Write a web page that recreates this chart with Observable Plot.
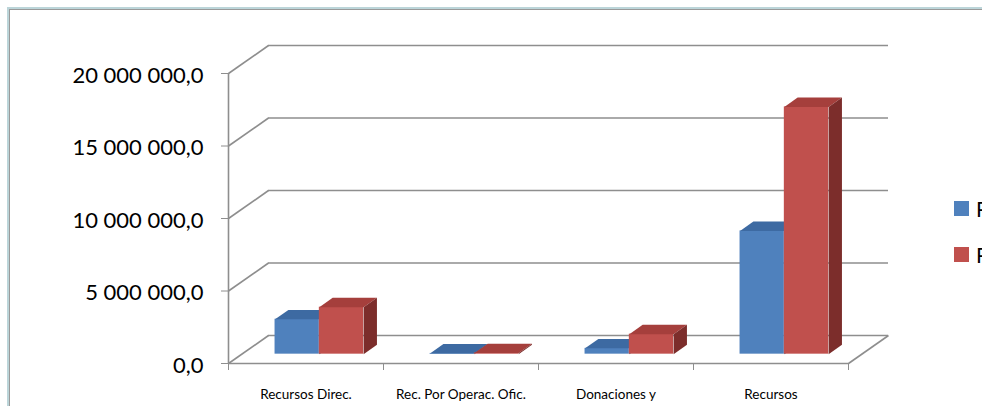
<!DOCTYPE html>
<html><head><meta charset="utf-8">
<script src="https://cdn.jsdelivr.net/npm/d3@7"></script>
<script src="https://cdn.jsdelivr.net/npm/@observablehq/plot@0.6"></script>
<style>
html,body{margin:0;padding:0;background:#fff;}
#wrap{position:relative;width:982px;height:406px;overflow:hidden;font-family:Lato,"Open Sans",sans-serif;}
#frame1{position:absolute;left:7px;top:7px;width:1000px;height:420px;border-left:2px solid #bcd5d9;border-top:2px solid #bcd5d9;}
#frame2{position:absolute;left:9px;top:9px;width:1000px;height:420px;border-left:1.5px solid #9a9a9a;border-top:1.5px solid #9a9a9a;}
#chart{position:absolute;left:0;top:0;}
.leg{position:absolute;left:954px;height:15px;display:flex;align-items:center;white-space:nowrap;font-size:21px;color:#000;}
.sw{width:15px;height:15px;margin-right:7px;flex:none;}
</style></head>
<body>
<div id="wrap">
  <div id="frame1"></div>
  <div id="frame2"></div>
  <div id="chart"></div>
  <div id="legend"></div>
</div>
<script>
// ---- data ----
const categories = ["Recursos Direc.", "Rec. Por Operac. Ofic.", "Donaciones y", "Recursos"];
const seriesNames = ["Presupuestado", "Percibido"];
const series1 = [2410000, 50000, 400000, 8500000];
const series2 = [3240000, 80000, 1380000, 17050000];
const yTicks = [0, 5000000, 10000000, 15000000, 20000000];

// ---- styles ----
const faceColors = [
  {front: "#4f81bd", top: "#3d6aa2", side: "#2f5786"},
  {front: "#c0504d", top: "#a53f3c", side: "#7c2d2b"}
];
const gridColor = "#8e8e8e";

// ---- layout ----
const W = 982, H = 406, mL = 228, mR = 134, mT = 73, mB = 43;
const nCat = categories.length;
const yMax = yTicks[yTicks.length - 1];
const ux = nCat / (W - mL - mR);
const uy = yMax / (H - mT - mB);
const DX = 40, DY = 28;           // floor depth in px
const bw = 1 / 3.5;               // bar width (150% gap)
const bdx = (DX / 3) * ux, bdy = (DY / 3) * uy;

const fmt = d3.formatLocale({decimal: ",", thousands: " ", grouping: [3], currency: ["", ""]}).format(",.1f");

const allSeries = [series1, series2];
const fronts = [], tops = [], sides = [];
allSeries.forEach((vals, s) => {
  const F = [], T = [], S = [];
  vals.forEach((v, i) => {
    const x1 = i + 0.75 * bw + s * bw, x2 = x1 + bw;
    F.push({x1, x2, v});
    const id = `${s}-${i}`;
    [[x1, v], [x2, v], [x2 + bdx, v + bdy], [x1 + bdx, v + bdy]].forEach(([x, y]) => T.push({id, x, y}));
    [[x2, 0], [x2, v], [x2 + bdx, v + bdy], [x2 + bdx, bdy]].forEach(([x, y]) => S.push({id, x, y}));
  });
  fronts.push(F); tops.push(T); sides.push(S);
});

const barMarks = [];
for (let s = 0; s < allSeries.length; s++) {
  const c = faceColors[s];
  barMarks.push(
    Plot.rectY(fronts[s], {x1: "x1", x2: "x2", y1: 0, y2: "v", fill: c.front, dx: DX / 3, dy: -DY / 3}),
    Plot.line(tops[s], {x: "x", y: "y", z: "id", fill: c.top, stroke: "none", dx: DX / 3, dy: -DY / 3}),
    Plot.line(sides[s], {x: "x", y: "y", z: "id", fill: c.side, stroke: "none", dx: DX / 3, dy: -DY / 3})
  );
}

const chart = Plot.plot({
  width: W, height: H,
  marginLeft: mL, marginRight: mR, marginTop: mT, marginBottom: mB,
  style: {color: gridColor, background: "transparent", overflow: "visible"},
  x: {domain: [0, nCat], ticks: d3.range(nCat + 1), tickFormat: () => "", tickSize: 7, label: null, axis: "bottom"},
  y: {domain: [0, yMax], ticks: yTicks, tickFormat: () => "", tickSize: 7, label: null},
  marks: [
    Plot.ruleY(yTicks, {y: d => d, dx: DX, dy: -DY, stroke: gridColor, strokeWidth: 1.6}),
    Plot.link(yTicks, {x1: 0, x2: DX * ux, y1: d => d, y2: d => d + DY * uy, stroke: gridColor, strokeWidth: 1.6}),
    Plot.link([0], {x1: nCat, x2: nCat + DX * ux, y1: 0, y2: DY * uy, stroke: gridColor, strokeWidth: 1.6}),
    Plot.ruleY([0], {stroke: gridColor, strokeWidth: 1.6}),
    Plot.ruleX([0], {y1: 0, y2: yMax, stroke: gridColor, strokeWidth: 1.6}),
    ...barMarks,
    Plot.text(yTicks, {x: 0, y: d => d, text: d => fmt(d), textAnchor: "end", dx: -25, dy: 2, fontSize: 22, fill: "#000", fontFamily: "Lato"}),
    Plot.text(categories, {x: (d, i) => i + 0.5, y: 0, text: d => d, dy: 31, fontSize: 13.5, fill: "#000", fontFamily: "Lato"})
  ]
});
document.getElementById("chart").appendChild(chart);

const legend = document.getElementById("legend");
const legTops = [201, 247];
seriesNames.forEach((name, s) => {
  const item = document.createElement("div");
  item.className = "leg";
  item.style.top = legTops[s] + "px";
  item.innerHTML = `<div class="sw" style="background:${faceColors[s].front}"></div><span>${name}</span>`;
  legend.appendChild(item);
});
</script>
</body></html>
